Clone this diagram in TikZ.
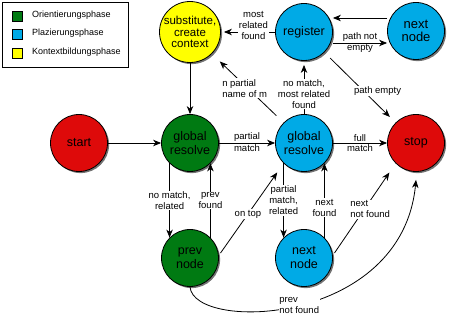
\documentclass[tikz,border=0pt]{standalone}
\usepackage{fontspec}
\setmainfont{Liberation Sans}
\usetikzlibrary{arrows.meta,shadows}
\definecolor{cred}{RGB}{222,10,10}
\definecolor{cgreen}{RGB}{0,122,18}
\definecolor{cblue}{RGB}{0,170,230}
\definecolor{cyellow}{RGB}{255,255,0}
\begin{document}
\begin{tikzpicture}[x=1pt,y=-1pt,
  state/.style={circle,draw=black,line width=0.8pt,minimum size=57pt,inner sep=0pt,align=center,
     font=\fontsize{12.5}{14}\selectfont,
     drop shadow={shadow xshift=1.6pt,shadow yshift=-1.6pt,fill=black,opacity=0.55}},
  lbl/.style={fill=white,inner sep=0.8pt,align=center,font=\fontsize{9.5}{11}\selectfont},
  tl/.style={inner sep=1pt,font=\fontsize{9.5}{11}\selectfont},
  arr/.style={-{Stealth[length=8pt,width=6.5pt,inset=2.5pt]},line width=0.8pt},
  legsq/.style={draw=black,line width=0.8pt,minimum size=10pt,inner sep=0pt},
  legtx/.style={anchor=west,inner sep=0pt,font=\fontsize{9}{10}\selectfont}]
\useasboundingbox (0,0) rectangle (449,326);
% legend
\node[draw=black,line width=0.8pt,minimum width=126pt,minimum height=65pt,inner sep=0pt] (legend) at (65,34.5) {};
\node[legsq,fill=cgreen] (l1) at (17.5,16) {};
\node[legsq,fill=cblue] (l2) at (17.5,34) {};
\node[legsq,fill=cyellow] (l3) at (17.5,53) {};
\node[legtx] (t1) at (32,15.5) {Orientierungsphase};
\node[legtx] (t2) at (32,33.5) {Plazierungsphase};
\node[legtx] (t3) at (32,52.5) {Kontextbildungsphase};
% states
\node[state,fill=cred] (start) at (79,143) {start};
\node[state,fill=cgreen] (ggr) at (190,143) {global\\resolve};
\node[state,fill=cblue] (bgr) at (304,143) {global\\resolve};
\node[state,fill=cred] (stop) at (416,143) {stop};
\node[state,fill=cyellow,font=\fontsize{11.5}{11.5}\selectfont] (sub) at (190,32) {substitute,\\create\\context};
\node[state,fill=cblue] (reg) at (304,32) {register};
\node[state,fill=cblue,font=\fontsize{13}{13.5}\selectfont] (nn1) at (416,31) {next\\node};
\node[state,fill=cgreen] (prev) at (190,258) {prev\\node};
\node[state,fill=cblue] (nn2) at (304,258) {next\\node};
% edges
\draw[arr] (start) -- (ggr);
\draw[arr] (sub) -- (ggr);
\draw[arr] (ggr) -- node[tl,above]{partial} node[tl,below]{match} (bgr);
\draw[arr] (bgr) -- node[tl,above]{full} node[tl,below]{match} (stop);
\draw[arr] (ggr.225) -- node[lbl]{no match,\\related} (prev.135);
\draw[arr] (prev.45) -- node[lbl]{prev\\found} (ggr.-45);
\draw[arr] (bgr.225) -- node[lbl]{partial\\match,\\related} (nn2.135);
\draw[arr] (nn2.45) -- node[lbl,pos=0.4]{next\\found} (bgr.-45);
\draw[arr,shorten <=3pt,shorten >=11pt] (prev.5) -- node[lbl,pos=0.45]{on top} (bgr.225);
\draw[arr,shorten <=3pt,shorten >=11pt] (nn2.5) -- node[lbl,align=left,pos=0.5,xshift=6pt]{next\\not found} (stop.225);
\draw[arr] (prev.south) .. controls (194,332) and (402,326) .. node[lbl,align=left,pos=0.5]{prev\\not found} ([yshift=-8pt]stop.south);
\draw[arr] ([yshift=13pt]nn1.west) -- ([yshift=14pt]reg.east);
\draw[arr] ([yshift=-11pt]reg.east) -- node[tl,above]{path not} node[tl,below]{empty} ([yshift=-12pt]nn1.west);
\draw[arr,shorten >=3pt] (reg.west) -- node[lbl,pos=0.4,yshift=7pt]{most\\related\\found} (sub.east);
\draw[arr,shorten <=8pt,shorten >=8pt] (reg.-45) -- node[lbl,pos=0.55,xshift=14pt]{path empty} (stop.135);
\draw[arr,shorten >=4pt] (bgr.north) -- node[lbl,pos=0.38]{no match,\\most related\\found} (reg.south);
\draw[arr,shorten <=10pt,shorten >=11pt] (bgr.135) -- node[lbl,align=left,pos=0.5,xshift=-3pt]{n partial\\name of m} (sub.-45);
\end{tikzpicture}
\end{document}
